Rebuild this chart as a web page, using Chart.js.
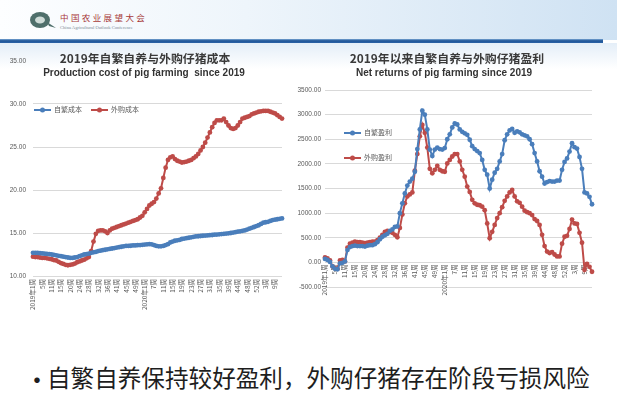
<!DOCTYPE html>
<html>
<head>
<meta charset="utf-8">
<script src="https://cdn.jsdelivr.net/npm/chart.js@4.4.1/dist/chart.umd.min.js"></script>
<style>
  html, body { margin: 0; padding: 0; }
  body { width: 617px; height: 393px; overflow: hidden; position: relative; background: #fff;
         font-family: "Noto Sans CJK SC", "Noto Sans", sans-serif; }
  .abs { position: absolute; }
  #header { left: 0; top: 0; width: 617px; height: 40px;
            background: linear-gradient(90deg, #fdfeff 0%, #eef5fb 40%, #cfe2f3 100%); }
  #bar { left: 0; top: 39px; width: 603px; height: 4px;
         background: linear-gradient(180deg, #7aa7d4 0%, #1f5597 45%, #2a62a6 100%); }
  #sub { left: 0; top: 43px; width: 617px; height: 26px;
         background: linear-gradient(180deg, #e4eef8 0%, rgba(255,255,255,0) 100%); }
  #org { left: 60px; top: 13px; font-size: 8.5px; letter-spacing: 2.4px; color: #a83a3a; line-height: 1; }
  #orgEn { left: 60px; top: 25.5px; font-size: 4.6px; color: #7b8b97; line-height: 1;
           font-family: "Liberation Serif", serif; }
  canvas { position: absolute; }
  .tcn { font-weight: 700; font-size: 11.9px; color: #3a3a3a; line-height: 1; white-space: nowrap;
         transform: translateX(-50%); }
  .ten { font-family: "Liberation Sans", Arial, sans-serif; font-weight: 700; font-size: 10px; color: #333;
         line-height: 1; white-space: nowrap; transform: translateX(-50%); }
  .legend { font-size: 7px; color: #595959; line-height: 1; white-space: nowrap; }
  .legend .item { display: flex; align-items: center; }
  .legend svg { margin-right: 3px; }
  .bullet { font-size: 23.6px; color: #1e1e1e; line-height: 1; white-space: nowrap; }
</style>
</head>
<body>
<div id="header" class="abs"></div>
<svg class="abs" style="left:27px;top:10px" width="30" height="22">
  <ellipse cx="13" cy="10" rx="10" ry="8" fill="#4f6f6b"/>
  <path d="M20 12 L29 18 L22 16 Z" fill="#4f6f6b"/>
  <ellipse cx="13" cy="10" rx="5" ry="3.5" fill="#cfdcd8"/>
</svg>
<div id="org" class="abs">中国农业展望大会</div>
<div id="orgEn" class="abs">China Agricultural Outlook Conference</div>
<div id="bar" class="abs"></div>
<div id="sub" class="abs"></div>

<canvas id="costChart" width="300" height="272" style="left:0;top:50px"></canvas>
<canvas id="profitChart" width="310" height="235" style="left:295px;top:80px"></canvas>

<div class="abs tcn" style="left:145px;top:52px">2019年自繁自养与外购仔猪成本</div>
<div class="abs ten" style="left:144px;top:67.5px">Production cost of pig farming&nbsp; since 2019</div>
<div class="abs tcn" style="left:447px;top:52px">2019年以来自繁自养与外购仔猪盈利</div>
<div class="abs ten" style="left:444px;top:67.5px">Net returns of pig farming since 2019</div>

<div id="costLegend" class="abs legend" style="left:34px;top:106px;display:flex;gap:9px"></div>
<div id="profitLegend" class="abs legend" style="left:344px;top:129px;display:flex;flex-direction:column;gap:18px"></div>

<div class="abs bullet" style="left:24px;top:366px;font-size:26px">•</div>
<div class="abs bullet" style="left:47px;top:366px">自繁自养保持较好盈利，外购仔猪存在阶段亏损风险</div>

<script>
// weekly categories (some holiday weeks are missing in the source data)
const weeks = [
  '2019年1周','2周','3周','4周','5周','8周','9周','10周','11周','12周','13周','14周','15周','16周','17周',
  '19周','20周','21周','22周','23周','24周','25周','26周','27周','28周','29周','30周','31周','32周','33周',
  '34周','35周','36周','37周','38周','39周','41周','42周','43周','44周','45周','46周','47周','48周','49周',
  '50周','51周','52周',
  '2020年1周','2周','3周','6周','7周','8周','9周','10周','11周','12周','13周','14周','15周','16周','17周',
  '18周','19周','20周','21周','22周','23周','24周','25周','26周','27周','28周','29周','30周','31周','32周',
  '33周','34周','35周','36周','37周','38周','39周','41周','42周','43周','44周','45周','46周','47周','48周',
  '49周','50周','51周','52周','53周',
  '2021年1周','2周','3周','4周','5周','8周','9周','10周','11周','12周'
];
const labelEvery = 4;

// left chart: cost, yuan/kg
const ownCost = [
  12.7,12.7,12.68,12.65,12.63,12.6,12.57,12.55,12.5,12.45,
  12.4,12.35,12.3,12.25,12.2,12.15,12.1,12.1,12.15,12.2,
  12.3,12.4,12.5,12.55,12.6,12.7,12.75,12.8,12.9,12.95,
  13.0,13.05,13.1,13.15,13.2,13.25,13.3,13.35,13.4,13.45,
  13.5,13.5,13.52,13.55,13.55,13.58,13.6,13.62,13.65,13.68,
  13.7,13.68,13.6,13.5,13.45,13.45,13.5,13.6,13.7,13.9,
  14.0,14.1,14.15,14.2,14.3,14.35,14.4,14.45,14.5,14.55,
  14.6,14.62,14.65,14.68,14.7,14.72,14.75,14.77,14.8,14.82,
  14.85,14.88,14.9,14.93,14.96,15.0,15.05,15.1,15.15,15.2,
  15.25,15.3,15.4,15.5,15.6,15.7,15.8,15.9,16.05,16.2,
  16.25,16.3,16.4,16.5,16.55,16.6,16.65,16.7
];
const boughtCost = [
  12.25,12.2,12.2,12.15,12.1,12.1,12.05,12.0,11.95,11.85,
  11.8,11.65,11.5,11.4,11.3,11.25,11.3,11.35,11.45,11.6,
  11.7,11.8,11.9,12.05,12.2,12.9,14.0,14.9,15.25,15.3,
  15.3,15.2,15.0,15.3,15.5,15.6,15.7,15.8,15.9,16.0,
  16.1,16.2,16.3,16.4,16.5,16.6,16.8,17.0,17.4,17.8,
  18.2,18.4,18.6,19.0,19.6,20.2,21.4,22.6,23.5,23.8,
  23.9,23.6,23.4,23.3,23.2,23.25,23.3,23.4,23.5,23.7,
  23.9,24.2,24.6,25.0,25.5,26.1,26.7,27.3,27.8,28.1,
  28.1,28.1,28.3,27.9,27.5,27.2,27.1,27.2,27.5,27.9,
  28.3,28.4,28.5,28.6,28.8,28.9,29.0,29.1,29.15,29.2,
  29.2,29.2,29.1,29.0,28.9,28.7,28.5,28.3
];

// right chart: net returns, yuan/head
const ownProfit = [
  70,50,10,-80,-130,-140,-20,-10,20,250,
  310,330,340,330,330,330,320,340,350,350,
  370,410,470,520,550,580,640,670,720,730,
  1000,1200,1400,1560,1640,1700,1840,2300,2700,3080,
  3000,2700,2290,2160,2290,2330,2300,2290,2320,2500,
  2600,2740,2820,2800,2700,2650,2620,2590,2490,2360,
  2300,2260,2220,2080,1880,1780,1500,1680,1820,1900,
  2050,2200,2480,2600,2680,2710,2630,2660,2640,2600,
  2580,2560,2500,2400,2220,2050,1850,1740,1600,1630,
  1650,1640,1640,1660,1660,1880,2040,2110,2250,2420,
  2340,2310,2140,1900,1420,1400,1330,1180
];
const boughtProfit = [
  100,80,40,-80,-120,-130,40,50,20,300,
  380,400,420,410,410,400,390,400,410,420,
  420,450,500,560,620,640,620,600,560,510,
  700,970,1200,1340,1380,1420,1860,2200,2560,2790,
  2630,2330,1900,1810,1880,1960,1880,1850,1840,2010,
  2080,2150,2200,2200,2050,1880,1740,1540,1430,1270,
  1200,1170,1160,1130,1060,790,490,620,760,900,
  1000,1120,1250,1340,1420,1470,1340,1240,1210,1130,
  1050,1020,1000,960,880,840,760,560,330,220,
  190,210,160,120,120,380,520,540,680,870,
  790,780,600,400,-150,-30,-90,-190
];

const costTicks = { min: 10, max: 35, step: 5 };
const profitTicks = { min: -500, max: 3500, step: 500 };

const BLUE = '#4a7ebb';
const RED = '#be4b48';
const GRID = '#d9d9d9';

function series(label, data, color) {
  return {
    label, data,
    borderColor: color, backgroundColor: color, borderWidth: 2,
    pointRadius: 2.4, pointBorderWidth: 0, pointBackgroundColor: color, tension: 0
  };
}

function makeChart(id, datasets, yt, cfg) {
  return new Chart(document.getElementById(id), {
    type: 'line',
    data: { labels: weeks, datasets },
    options: {
      responsive: false,
      animation: false,
      events: [],
      layout: { padding: cfg.padding },
      plugins: { legend: { display: false }, tooltip: { enabled: false } },
      scales: {
        x: {
          position: cfg.xPos,
          offset: false,
          grid: { display: false, drawTicks: false },
          border: { display: false },
          ticks: {
            autoSkip: false, minRotation: 90, maxRotation: 90, padding: cfg.xPad,
            color: '#595959', font: { size: 6.5, family: 'Noto Sans CJK SC' },
            callback: (v, i) => (i % labelEvery === 0 ? weeks[i] : null)
          },
          afterFit: cfg.xFit
        },
        y: {
          min: yt.min, max: yt.max,
          grid: {
            drawTicks: false,
            color: c => (cfg.hideTop && c.tick && c.tick.value === yt.max ? 'rgba(0,0,0,0)' : GRID)
          },
          border: { display: false },
          ticks: {
            stepSize: yt.step, padding: cfg.yPad, color: '#595959',
            font: { size: 6.5, family: 'Liberation Sans' },
            callback: v => Number(v).toFixed(2)
          },
          afterFit: s => { s.width = cfg.yWidth; }
        }
      }
    }
  });
}

const costChart = makeChart('costChart',
  [series('自繁成本', ownCost, BLUE), series('外购成本', boughtCost, RED)],
  costTicks,
  { padding: { top: 11, right: 18, left: 0, bottom: 0 }, xPos: 'bottom', xPad: 3,
    xFit: s => { s.height = 46; }, yWidth: 33, yPad: 7, hideTop: true });

const profitChart = makeChart('profitChart',
  [series('自繁盈利', ownProfit, BLUE), series('外购盈利', boughtProfit, RED)],
  profitTicks,
  { padding: { top: 10, right: 13, left: 0, bottom: 28 }, xPos: { y: 0 }, xPad: 2,
    xFit: undefined, yWidth: 30, yPad: 4, hideTop: false });

function buildLegend(el, chart) {
  chart.data.datasets.forEach(d => {
    const item = document.createElement('div');
    item.className = 'item';
    item.innerHTML =
      '<svg width="17" height="6"><line x1="0" y1="3" x2="17" y2="3" stroke="' + d.borderColor +
      '" stroke-width="2"/><circle cx="8.5" cy="3" r="2.5" fill="' + d.borderColor + '"/></svg>' +
      '<span>' + d.label + '</span>';
    el.appendChild(item);
  });
}
buildLegend(document.getElementById('costLegend'), costChart);
buildLegend(document.getElementById('profitLegend'), profitChart);
</script>
</body>
</html>
